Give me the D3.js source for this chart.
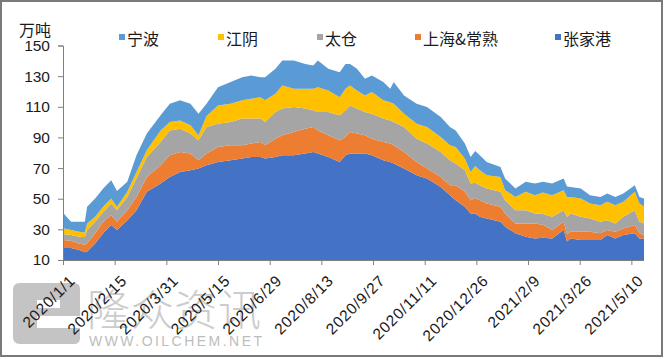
<!DOCTYPE html>
<html><head><meta charset="utf-8">
<script src="https://cdn.jsdelivr.net/npm/d3@7"></script>
<style>body{margin:0;background:#fff;} svg{display:block;font-family:"Liberation Sans",Arial,sans-serif;}</style>
</head><body><svg id="c" width="667" height="359"></svg>
<script>
const dates = ["2020-01-01","2020-01-08","2020-01-15","2020-01-20","2020-01-22","2020-01-29","2020-02-05","2020-02-12","2020-02-17","2020-02-26","2020-03-05","2020-03-14","2020-03-26","2020-04-03","2020-04-12","2020-04-21","2020-04-28","2020-05-05","2020-05-15","2020-05-26","2020-06-05","2020-06-13","2020-06-21","2020-06-25","2020-07-04","2020-07-10","2020-07-20","2020-07-30","2020-08-06","2020-08-10","2020-08-19","2020-08-29","2020-09-03","2020-09-07","2020-09-13","2020-09-20","2020-09-26","2020-10-06","2020-10-12","2020-10-15","2020-10-24","2020-11-04","2020-11-13","2020-11-25","2020-12-03","2020-12-08","2020-12-16","2020-12-21","2020-12-25","2020-12-29","2021-01-04","2021-01-16","2021-01-20","2021-01-29","2021-02-07","2021-02-15","2021-02-22","2021-03-02","2021-03-12","2021-03-15","2021-03-18","2021-03-27","2021-04-04","2021-04-13","2021-04-19","2021-04-26","2021-05-03","2021-05-13","2021-05-17","2021-05-21"];
const zhangjiagang = [17.8,17.8,16.5,15.0,15.4,20.8,27.4,32.8,29.5,36.0, 42.5,54.5,60.0,64.2,67.5,68.6,69.7,71.8,74.0,75.1, 76.2,77.3,77.3,76.2,77.3,78.4,78.4,79.5,80.5,79.5, 77.3,74.0,78.4,79.5,79.5,79.5,78.4,75.1,74.0,73.0, 69.7,65.3,63.2,57.7,52.3,49.0,44.7,40.4,40.4,38.2, 37.1,35.0,31.7,27.4,25.2,24.1,24.5,24.1,29.5,22.0, 24.1,23.0,23.0,23.0,26.3,24.1,26.3,27.4,24.1,24.0];
const shanghai = [5.2,4.8,4.3,5.0,5.6,6.6,7.6,6.5,5.5,6.5, 8.7,9.7,11.8,14.2,13.0,10.9,5.4,7.7,9.8,9.8, 8.7,8.7,9.7,8.7,11.9,13.0,15.1,16.2,16.3,15.1, 14.1,14.1,11.9,14.0,13.0,11.9,10.8,11.9,12.0,11.9, 10.8,8.7,6.5,6.5,6.5,9.8,9.8,8.6,10.0,10.8, 9.8,9.7,8.7,6.5,8.7,9.8,8.5,5.4,5.5,5.0, 4.3,5.4,5.4,4.4,3.2,4.3,4.3,5.4,3.3,2.3];
const taicang = [4.0,3.7,4.4,5.0,8.5,7.6,6.4,7.6,7.5,8.7, 12.0,13.1,15.2,16.2,15.2,13.0,13.0,17.3,15.2,15.1, 17.4,16.3,15.3,15.1,17.4,17.4,16.3,13.1,10.9,12.0, 15.2,16.3,17.4,17.4,16.3,15.2,16.3,15.3,15.0,15.1, 16.3,15.2,16.3,16.3,16.3,14.2,14.1,11.0,10.0,9.8, 9.8,9.8,8.6,8.6,8.6,6.5,7.0,8.7,7.5,11.0, 12.0,9.8,8.7,7.6,6.5,5.5,7.6,9.7,7.6,7.7];
const jiangyin = [3.8,3.2,3.2,3.0,4.4,3.2,3.3,3.3,2.2,3.3, 4.3,4.3,7.6,5.4,5.4,5.4,3.3,7.2,11.9,12.0, 11.9,13.0,14.0,14.2,11.9,15.1,12.0,13.0,14.1,16.2, 14.1,11.9,14.1,13.0,11.9,10.8,14.1,11.9,12.0,12.0, 8.7,9.8,10.8,9.8,9.8,10.8,7.6,7.5,11.0,9.8, 8.6,9.7,6.6,8.7,12.0,11.9,14.0,14.1,13.1,13.0, 10.8,12.0,9.8,10.8,12.0,11.9,9.8,12.0,11.9,11.0];
const ningbo = [10.0,5.5,6.6,7.0,10.8,11.9,12.0,11.8,10.3,6.5, 10.9,10.9,9.8,12.0,13.1,14.1,14.1,8.0,11.9,14.1, 15.1,15.1,13.0,15.1,16.3,16.3,18.4,16.2,15.2,17.4, 14.1,16.3,16.2,14.1,14.1,10.9,10.8,11.9,8.8,14.1, 11.9,13.0,13.0,13.0,11.9,10.8,9.8,9.8,9.8,9.8, 8.7,6.5,7.6,5.5,6.5,7.6,7.0,7.6,7.6,7.0, 6.5,6.5,5.4,5.4,5.4,5.4,5.4,4.3,4.3,5.2];
const legendNames = ["宁波","江阴","太仓","上海&常熟","张家港"];
const yTicks = [10,30,50,70,90,110,130,150];
const xTickDates = ["2020-01-01","2020-02-15","2020-03-31","2020-05-15","2020-06-29","2020-08-13","2020-09-27","2020-11-11","2020-12-26","2021-02-09","2021-03-26","2021-05-10"];
const xTickLabels = ["2020/1/1","2020/2/15","2020/3/31","2020/5/15","2020/6/29","2020/8/13","2020/9/27","2020/11/11","2020/12/26","2021/2/9","2021/3/26","2021/5/10"];
const xEnd = "2021-05-21";

const colors = {"宁波":"#5b9bd5","江阴":"#ffc000","太仓":"#a5a5a5","上海&常熟":"#ed7d31","张家港":"#4472c4"};
const seriesMap = {"宁波":ningbo,"江阴":jiangyin,"太仓":taicang,"上海&常熟":shanghai,"张家港":zhangjiagang};

const parse = d3.utcParse("%Y-%m-%d");
const rows = dates.map((d,i)=>{const r={date:parse(d)}; legendNames.forEach(n=>r[n]=seriesMap[n][i]); return r;});

const svg = d3.select("#c");
const x = d3.scaleUtc().domain([parse(dates[0]), parse(xEnd)]).range([63,644]);
const y = d3.scaleLinear().domain([10,150]).range([260,45.5]);

// frame
svg.append("rect").attr("x",1).attr("y",1).attr("width",661).attr("height",355).attr("fill","#fff").attr("stroke","#7a7a7a").attr("stroke-width",2);

// watermark
const wm = svg.append("g");
wm.append("path").attr("fill","#c4c4c4")
  .attr("d","M20,283 H74 Q80,283 80,289 V316 H37 V308 H60 V300 H37 V328 H80 V338 Q80,344 74,344 H20 Q13,344 13,337 V290 Q13,283 20,283 Z");
wm.append("text").attr("x",87).attr("y",326).attr("font-size",43).attr("fill","#cccccc").attr("font-family","'Noto Sans CJK SC',sans-serif").attr("font-weight",300).attr("textLength",174).text("隆众资讯");
wm.append("text").attr("x",89).attr("y",346).attr("font-size",14).attr("fill","#bdbdbd").attr("textLength",173).text("WWW.OILCHEM.NET");

const keys = ["张家港","上海&常熟","太仓","江阴","宁波"];
const stacked = d3.stack().keys(keys)(rows);
const area = d3.area().x(d=>x(d.data.date)).y0(d=>y(Math.max(10,d[0]))).y1(d=>y(d[1]));
svg.append("g").selectAll("path").data(stacked).join("path")
  .attr("d",area).attr("fill",d=>colors[d.key]);

// axes
const axisColor = "#808080";
const yAxis = svg.append("g").attr("transform","translate(63,0)")
  .call(d3.axisLeft(y).tickValues(yTicks).tickSize(5).tickPadding(8));
const xAxis = svg.append("g").attr("transform","translate(0,260)")
  .call(d3.axisBottom(x).tickValues(xTickDates.map(parse)).tickSize(5).tickFormat((d,i)=>xTickLabels[i]));
[yAxis,xAxis].forEach(a=>{a.select(".domain").attr("stroke",axisColor);a.selectAll(".tick line").attr("stroke",axisColor);});
yAxis.selectAll("text").attr("font-size",15.5).attr("fill","#1a1a1a").attr("font-family","'Liberation Sans',Arial,sans-serif");
xAxis.selectAll("text").attr("font-size",15.5).attr("letter-spacing",0.8).attr("fill","#1a1a1a").attr("font-family","'Liberation Sans',Arial,sans-serif")
  .attr("text-anchor","end").attr("dy",0).attr("transform","translate(7,16) rotate(-45)");
xAxis.select(".domain").attr("d","M63,0.5H644");

// unit
svg.append("text").attr("x",19).attr("y",29).attr("dominant-baseline","central").attr("font-size",16).attr("fill","#1a1a1a").attr("font-family","'Noto Sans CJK SC',sans-serif").text("万吨");

// legend
const legX = [119,218,317,415,555];
const lg = svg.append("g");
legendNames.forEach((n,i)=>{
  lg.append("rect").attr("x",legX[i]).attr("y",34).attr("width",6).attr("height",6).attr("fill",colors[n]);
  lg.append("text").attr("x",legX[i]+8).attr("y",37.5).attr("dominant-baseline","central").attr("font-size",16).attr("fill","#1a1a1a").attr("font-family","'Noto Sans CJK SC',sans-serif").text(n);
});
</script></body></html>
